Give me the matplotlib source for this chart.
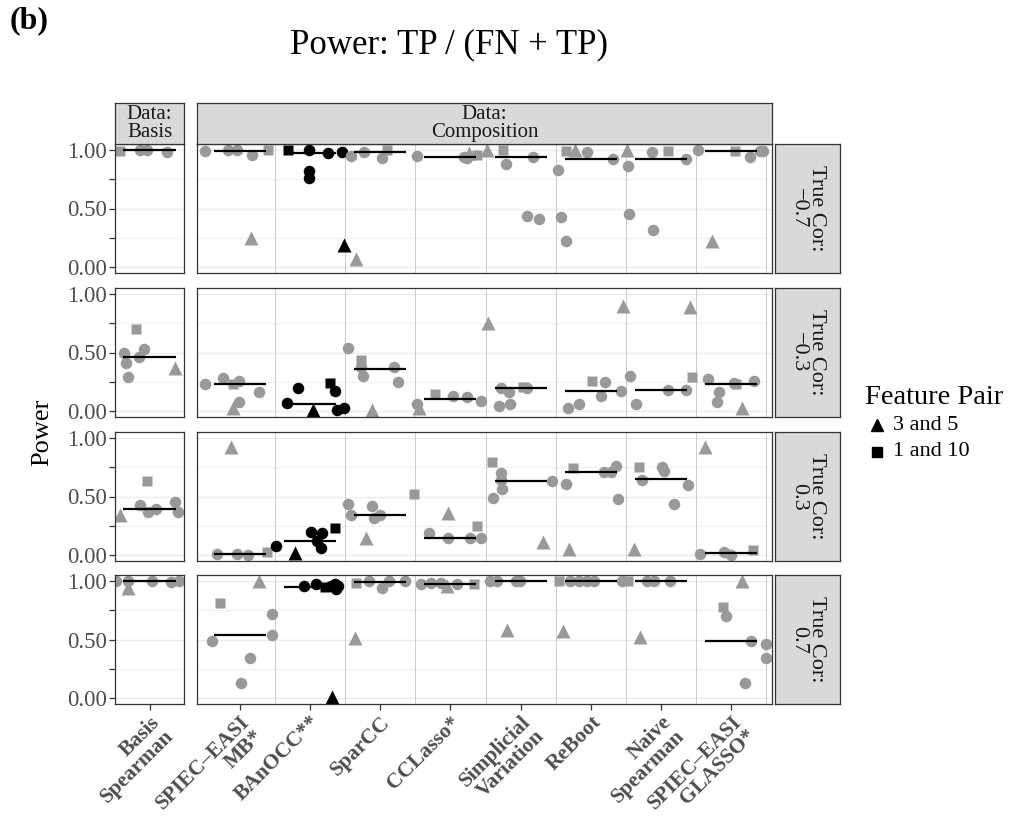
import matplotlib
matplotlib.use('Agg')
import matplotlib.pyplot as plt
from matplotlib.lines import Line2D

plt.rcParams['font.family'] = ['Liberation Serif', 'DejaVu Serif']

# ---------------- data ----------------
basis_methods = ['Basis\nSpearman']
comp_methods = ['SPIEC\u2013EASI\nMB*', 'BAnOCC**', 'SparCC', 'CCLasso*',
                'Simplicial\nVariation', 'ReBoot', 'Naive\nSpearman',
                'SPIEC\u2013EASI\nGLASSO*']
method_keys = ['BS', 'MB', 'BA', 'SP', 'CC', 'SV', 'RB', 'NS', 'GL']
true_cor = ['\u22120.7', '\u22120.3', '0.3', '0.7']
legend_pairs = ['3 and 5', '1 and 10']

# (method, shape: c=other pair, t=3 and 5, s=1 and 10, jitter, power)
pts_neg07 = [
    ('BS', 's', -0.42, 0.99), ('BS', 'c', -0.14, 1.00), ('BS', 'c', -0.03, 1.00), ('BS', 'c', 0.25, 0.98),
    ('MB', 'c', -0.49, 0.99), ('MB', 'c', -0.17, 1.00), ('MB', 'c', -0.04, 1.00), ('MB', 'c', 0.17, 0.96),
    ('MB', 's', 0.40, 1.00), ('MB', 't', 0.16, 0.25),
    ('BA', 's', -0.32, 1.00), ('BA', 'c', -0.02, 1.00), ('BA', 'c', -0.02, 0.82), ('BA', 'c', -0.01, 0.76),
    ('BA', 'c', 0.25, 0.97), ('BA', 'c', 0.45, 0.98), ('BA', 't', 0.49, 0.19),
    ('SP', 'c', -0.42, 0.95), ('SP', 'c', -0.23, 0.98), ('SP', 'c', 0.03, 0.93), ('SP', 's', 0.10, 1.00),
    ('SP', 't', -0.35, 0.07),
    ('CC', 'c', -0.47, 0.95), ('CC', 'c', 0.19, 0.94), ('CC', 'c', 0.23, 0.93), ('CC', 't', 0.27, 0.97),
    ('CC', 's', 0.38, 0.96),
    ('SV', 't', -0.48, 1.00), ('SV', 's', -0.25, 1.00), ('SV', 'c', -0.21, 0.88), ('SV', 'c', 0.17, 0.94),
    ('SV', 'c', 0.09, 0.44), ('SV', 'c', 0.26, 0.41),
    ('RB', 's', -0.36, 0.99), ('RB', 't', -0.23, 1.00), ('RB', 'c', -0.47, 0.83), ('RB', 'c', -0.43, 0.43),
    ('RB', 'c', -0.35, 0.22), ('RB', 'c', -0.06, 0.98), ('RB', 'c', 0.31, 0.92),
    ('NS', 't', -0.49, 1.00), ('NS', 'c', -0.47, 0.86), ('NS', 'c', -0.46, 0.45), ('NS', 'c', -0.13, 0.98),
    ('NS', 'c', -0.12, 0.32), ('NS', 's', 0.10, 0.99), ('NS', 'c', 0.36, 0.92),
    ('GL', 'c', -0.47, 1.00), ('GL', 't', -0.28, 0.22), ('GL', 's', 0.06, 0.99), ('GL', 'c', 0.27, 0.94),
    ('GL', 'c', 0.41, 0.99), ('GL', 'c', 0.45, 0.99),
]
pts_neg03 = [
    ('BS', 's', -0.19, 0.70), ('BS', 'c', -0.36, 0.50), ('BS', 'c', -0.34, 0.41), ('BS', 'c', -0.31, 0.29),
    ('BS', 'c', -0.15, 0.46), ('BS', 'c', -0.08, 0.53), ('BS', 't', 0.36, 0.37),
    ('MB', 'c', -0.50, 0.23), ('MB', 'c', -0.24, 0.28), ('MB', 's', -0.10, 0.23), ('MB', 'c', -0.01, 0.26),
    ('MB', 'c', -0.01, 0.08), ('MB', 't', -0.10, 0.03), ('MB', 'c', 0.27, 0.16),
    ('BA', 'c', -0.17, 0.20), ('BA', 'c', -0.33, 0.07), ('BA', 't', 0.04, 0.01), ('BA', 's', 0.28, 0.24),
    ('BA', 'c', 0.36, 0.17), ('BA', 'c', 0.38, 0.01), ('BA', 'c', 0.48, 0.03),
    ('SP', 'c', -0.46, 0.54), ('SP', 's', -0.28, 0.44), ('SP', 'c', -0.28, 0.38), ('SP', 'c', -0.24, 0.30),
    ('SP', 't', -0.12, 0.01), ('SP', 'c', 0.19, 0.38), ('SP', 'c', 0.25, 0.25),
    ('CC', 'c', -0.48, 0.06), ('CC', 't', -0.45, 0.03), ('CC', 's', -0.22, 0.15), ('CC', 'c', 0.04, 0.13),
    ('CC', 'c', 0.24, 0.12), ('CC', 'c', 0.43, 0.09),
    ('SV', 't', -0.46, 0.75), ('SV', 'c', -0.28, 0.20), ('SV', 'c', -0.17, 0.16), ('SV', 'c', -0.31, 0.04),
    ('SV', 'c', -0.15, 0.06), ('SV', 's', 0.03, 0.21), ('SV', 'c', 0.09, 0.20),
    ('RB', 'c', -0.33, 0.03), ('RB', 'c', -0.17, 0.06), ('RB', 's', 0.02, 0.26), ('RB', 'c', 0.20, 0.25),
    ('RB', 'c', 0.14, 0.13), ('RB', 'c', 0.43, 0.17), ('RB', 't', 0.46, 0.90),
    ('NS', 'c', -0.44, 0.30), ('NS', 'c', -0.35, 0.06), ('NS', 'c', 0.10, 0.18), ('NS', 'c', 0.36, 0.18),
    ('NS', 't', 0.41, 0.89), ('NS', 's', 0.44, 0.29),
    ('GL', 'c', -0.33, 0.27), ('GL', 'c', -0.17, 0.16), ('GL', 'c', -0.21, 0.08), ('GL', 'c', 0.04, 0.24),
    ('GL', 's', 0.07, 0.23), ('GL', 'c', 0.33, 0.26), ('GL', 't', 0.15, 0.03),
]
pts_pos03 = [
    ('BS', 't', -0.42, 0.34), ('BS', 's', -0.03, 0.63), ('BS', 'c', -0.14, 0.43), ('BS', 'c', -0.02, 0.37),
    ('BS', 'c', 0.09, 0.39), ('BS', 'c', 0.36, 0.45), ('BS', 'c', 0.41, 0.37),
    ('MB', 't', -0.12, 0.92), ('MB', 'c', -0.33, 0.01), ('MB', 'c', -0.04, 0.01), ('MB', 'c', 0.11, 0.00),
    ('MB', 's', 0.39, 0.03),
    ('BA', 'c', -0.49, 0.08), ('BA', 't', -0.22, 0.02), ('BA', 'c', 0.02, 0.20), ('BA', 'c', 0.17, 0.19),
    ('BA', 'c', 0.10, 0.12), ('BA', 'c', 0.15, 0.06), ('BA', 's', 0.36, 0.23),
    ('SP', 'c', -0.46, 0.44), ('SP', 'c', -0.42, 0.34), ('SP', 'c', -0.12, 0.42), ('SP', 'c', -0.09, 0.32),
    ('SP', 'c', -0.01, 0.34), ('SP', 't', -0.20, 0.15), ('SP', 's', 0.48, 0.52),
    ('CC', 'c', -0.31, 0.19), ('CC', 'c', -0.03, 0.15), ('CC', 'c', 0.28, 0.15), ('CC', 'c', 0.43, 0.15),
    ('CC', 't', -0.03, 0.36), ('CC', 's', 0.38, 0.25),
    ('SV', 's', -0.41, 0.79), ('SV', 'c', -0.28, 0.70), ('SV', 'c', -0.28, 0.64), ('SV', 'c', -0.26, 0.56),
    ('SV', 'c', -0.40, 0.49), ('SV', 'c', 0.44, 0.63), ('SV', 't', 0.32, 0.11),
    ('RB', 'c', -0.35, 0.61), ('RB', 's', -0.26, 0.74), ('RB', 'c', 0.19, 0.71), ('RB', 'c', 0.28, 0.71),
    ('RB', 'c', 0.36, 0.76), ('RB', 'c', 0.39, 0.48), ('RB', 't', -0.31, 0.05),
    ('NS', 's', -0.32, 0.75), ('NS', 'c', -0.27, 0.64), ('NS', 'c', 0.02, 0.75), ('NS', 'c', 0.04, 0.72),
    ('NS', 'c', 0.18, 0.44), ('NS', 'c', 0.38, 0.60), ('NS', 't', -0.38, 0.05),
    ('GL', 't', -0.38, 0.92), ('GL', 'c', -0.44, 0.01), ('GL', 'c', -0.10, 0.03), ('GL', 'c', 0.00, 0.00),
    ('GL', 's', 0.31, 0.04),
]
pts_pos07 = [
    ('BS', 'c', -0.47, 1.00), ('BS', 'c', -0.31, 1.00), ('BS', 't', -0.31, 0.94), ('BS', 'c', 0.03, 1.00),
    ('BS', 'c', 0.30, 0.99), ('BS', 'c', 0.42, 1.00),
    ('MB', 's', -0.28, 0.81), ('MB', 'c', -0.40, 0.49), ('MB', 'c', 0.01, 0.13), ('MB', 'c', 0.14, 0.34),
    ('MB', 'c', 0.46, 0.72), ('MB', 'c', 0.46, 0.54), ('MB', 't', 0.27, 1.00),
    ('BA', 'c', -0.08, 0.96), ('BA', 'c', 0.09, 0.97), ('BA', 's', 0.22, 0.95), ('BA', 'c', 0.30, 0.96),
    ('BA', 'c', 0.36, 0.97), ('BA', 'c', 0.37, 0.93), ('BA', 'c', 0.40, 0.96), ('BA', 't', 0.31, 0.01),
    ('SP', 's', -0.35, 0.98), ('SP', 'c', -0.16, 1.00), ('SP', 'c', 0.02, 0.94), ('SP', 'c', 0.12, 1.00),
    ('SP', 'c', 0.35, 1.00), ('SP', 't', -0.36, 0.51),
    ('CC', 'c', -0.42, 0.97), ('CC', 'c', -0.27, 0.98), ('CC', 'c', -0.14, 0.98), ('CC', 't', -0.05, 0.96),
    ('CC', 'c', 0.10, 0.97), ('CC', 's', 0.33, 0.97),
    ('SV', 'c', -0.44, 1.00), ('SV', 'c', -0.34, 1.00), ('SV', 'c', -0.07, 1.00), ('SV', 'c', -0.01, 1.00),
    ('SV', 't', -0.20, 0.58),
    ('RB', 's', -0.45, 1.00), ('RB', 'c', -0.30, 1.00), ('RB', 'c', -0.17, 1.00), ('RB', 'c', -0.05, 1.00),
    ('RB', 'c', 0.05, 1.00), ('RB', 'c', 0.45, 1.00), ('RB', 't', -0.40, 0.57),
    ('NS', 's', -0.47, 1.00), ('NS', 'c', -0.20, 1.00), ('NS', 'c', -0.10, 1.00), ('NS', 'c', 0.13, 1.00),
    ('NS', 't', -0.30, 0.52),
    ('GL', 't', 0.15, 1.00), ('GL', 's', -0.12, 0.78), ('GL', 'c', -0.08, 0.70), ('GL', 'c', 0.28, 0.49),
    ('GL', 'c', 0.49, 0.46), ('GL', 'c', 0.49, 0.34), ('GL', 'c', 0.19, 0.13),
]
# median power per method (order of method_keys)
med_neg07 = [1.00, 0.99, 0.97, 0.98, 0.94, 0.94, 0.92, 0.92, 0.99]
med_neg03 = [0.46, 0.23, 0.06, 0.36, 0.10, 0.20, 0.17, 0.18, 0.23]
med_pos03 = [0.39, 0.01, 0.12, 0.34, 0.15, 0.63, 0.71, 0.65, 0.02]
med_pos07 = [1.00, 0.54, 0.95, 0.99, 0.97, 1.00, 1.00, 1.00, 0.49]

rows_pts = [pts_neg07, pts_neg03, pts_pos03, pts_pos07]
rows_med = [med_neg07, med_neg03, med_pos03, med_pos07]

# ---------------- styling ----------------
W, H = 1024, 824
fig = plt.figure(figsize=(W / 100, H / 100), dpi=100)

GREY_PT = '#999999'
BORDER = '#333333'
TXT = '#4D4D4D'
STRIP = '#D9D9D9'
marker_of = {'c': 'o', 't': '^', 's': 's'}
msize_of = {'c': 8.3, 't': 9.6, 's': 7.6}


def add_ax(x0, y0, x1, y1):
    return fig.add_axes([x0 / W, 1 - y1 / H, (x1 - x0) / W, (y1 - y0) / H])


row_tops = [144, 288, 432, 575]
row_h = 129
bx0, bx1 = 115, 184
cx0, cx1 = 197, 772
sx0, sx1 = 775, 840

yticks = [0, 0.25, 0.5, 0.75, 1.0]
ylabels = ['0.00', '', '0.50', '', '1.00']

for r in range(4):
    y0 = row_tops[r]
    y1 = y0 + row_h
    axb = add_ax(bx0, y0, bx1, y1)
    axc = add_ax(cx0, y0, cx1, y1)
    panels = [(axb, ['BS'], (-0.49, 0.49)), (axc, method_keys[1:], (-0.61, 7.58))]
    for ax, keys, xl in panels:
        ax.set_xlim(*xl)
        ax.set_ylim(-0.05, 1.05)
        for yv in yticks:
            ax.axhline(yv, color='#EBEBEB', lw=1.0 if yv in (0, 0.5, 1.0) else 0.6, zorder=0)
        if ax is axc:
            for i in range(len(keys)):
                ax.axvline(i + 0.5, color='#C4C4C4', lw=0.6, zorder=0.5)
        for sp in ax.spines.values():
            sp.set_color(BORDER)
            sp.set_linewidth(0.9)
        pts = [p for p in rows_pts[r] if p[0] in keys]
        for m, shp, jit, val in pts:
            xi = keys.index(m) + jit
            col = 'black' if m == 'BA' else GREY_PT
            ax.plot([xi], [val], linestyle='none', marker=marker_of[shp],
                    ms=msize_of[shp], color=col, mec='none', zorder=2)
        for i, k in enumerate(keys):
            med = rows_med[r][method_keys.index(k)]
            ax.plot([i - 0.37, i + 0.37], [med, med], color='black', lw=1.6, zorder=3,
                    solid_capstyle='butt')
        ax.set_yticks(yticks)
        if ax is axb:
            ax.set_yticklabels(ylabels, fontsize=16.5, color=TXT)
            ax.tick_params(axis='y', length=4, width=0.9, color=BORDER, pad=2)
        else:
            ax.tick_params(axis='y', length=0, labelleft=False)
        ax.set_xticks(range(len(keys)))
        if r == 3:
            labels = basis_methods if ax is axb else comp_methods
            ax.set_xticklabels(labels, rotation=45, ha='right', va='top',
                               rotation_mode='anchor', fontsize=15.5, fontweight='bold',
                               color=TXT, multialignment='right', linespacing=0.95)
            ax.tick_params(axis='x', length=4, width=0.9, color=BORDER, pad=2)
        else:
            ax.tick_params(axis='x', length=0, labelbottom=False)

    # right strip
    sax = add_ax(sx0, y0, sx1, y1)
    sax.set_facecolor(STRIP)
    sax.set_xticks([]); sax.set_yticks([])
    for sp in sax.spines.values():
        sp.set_color(BORDER); sp.set_linewidth(0.9)
    sax.text(0.5, 0.5, 'True Cor:\n' + true_cor[r], rotation=-90, ha='center', va='center',
             fontsize=16, color='#1A1A1A', linespacing=0.95, transform=sax.transAxes)

# top strips
for (x0, x1, txt) in [(bx0, bx1, 'Data:\nBasis'), (cx0, cx1, 'Data:\nComposition')]:
    tax = add_ax(x0, 103, x1, 144)
    tax.set_facecolor(STRIP)
    tax.set_xticks([]); tax.set_yticks([])
    for sp in tax.spines.values():
        sp.set_color(BORDER); sp.set_linewidth(0.9)
    tax.text(0.5, 0.5, txt, ha='center', va='center', fontsize=15, color='#1A1A1A',
             linespacing=0.92, transform=tax.transAxes)

# titles
fig.text(449 / W, 1 - 45 / H, 'Power: TP / (FN + TP)', ha='center', va='center', fontsize=25)
fig.text(10 / W, 1 - 21 / H, '(b)', ha='left', va='center', fontsize=23, fontweight='bold')
fig.text(42 / W, 1 - 432 / H, 'Power', ha='center', va='center', rotation=90, fontsize=19)

# legend
fig.text(865 / W, 1 - 398 / H, 'Feature Pair', ha='left', va='center', fontsize=20.5)
for j, (shp, lab) in enumerate(zip(['t', 's'], legend_pairs)):
    yy = 1 - (425 + 27 * j) / H
    fig.add_artist(Line2D([877 / W], [yy], marker=marker_of[shp], ms=msize_of[shp] * 0.9,
                          color='black', linestyle='none', transform=fig.transFigure))
    fig.text(893 / W, yy, lab, ha='left', va='center', fontsize=16)

fig.savefig('out.png', dpi=100)
